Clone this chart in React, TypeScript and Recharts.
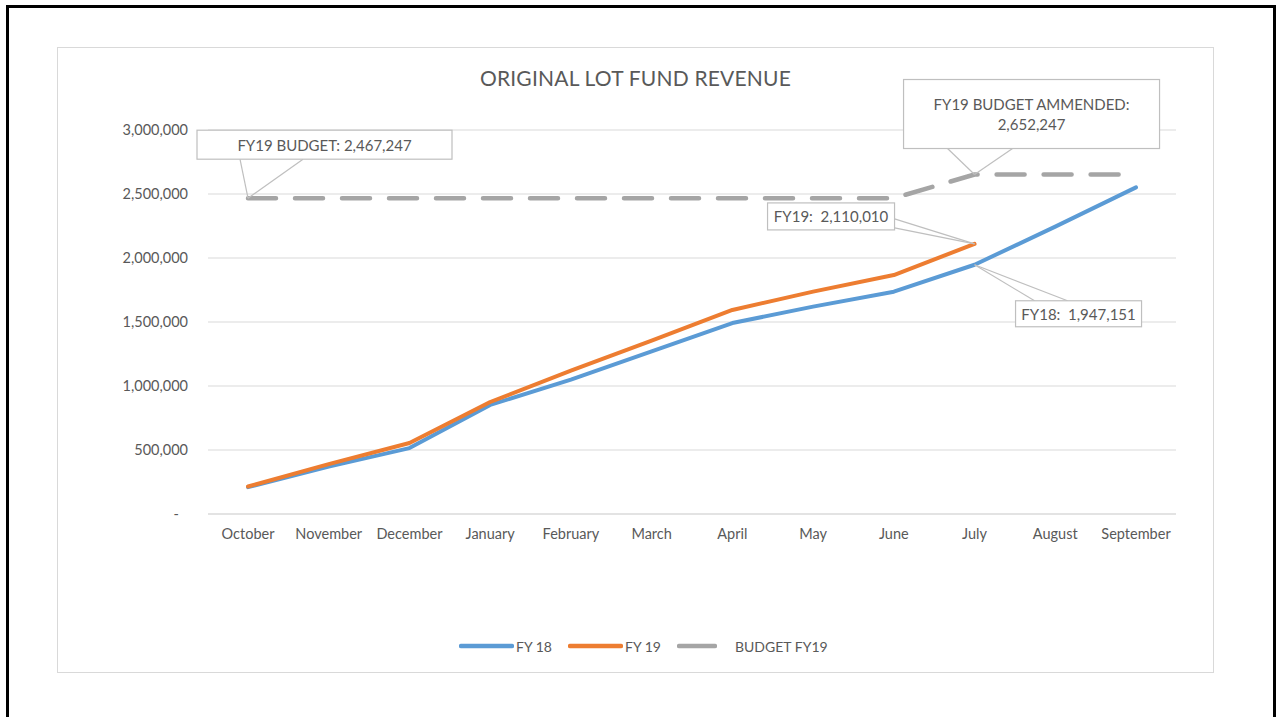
import React from "react";
import { LineChart, Line, XAxis, YAxis, CartesianGrid, ReferenceDot } from "recharts";

const MONTHS = [
  "October", "November", "December", "January", "February", "March",
  "April", "May", "June", "July", "August", "September",
];
const FY18 = [210000, 370000, 515000, 852000, 1050000, 1270000, 1492000, 1620000, 1737000, 1947151, 2245000, 2552000];
const FY19 = [215000, 390000, 555000, 875000, 1120000, 1355000, 1594000, 1737000, 1867000, 2110010, null, null];
const BUDGET = [
  2467247, 2467247, 2467247, 2467247, 2467247, 2467247, 2467247, 2467247, 2467247,
  2652247, 2652247, 2652247,
];
const Y_TICKS = [0, 500000, 1000000, 1500000, 2000000, 2500000, 3000000];

const FONT = "Lato, 'Noto Sans', sans-serif";
const TEXT = "#595959";
const GRID = "#d9d9d9";
const EDGE = "#bfbfbf";
const BLUE = "#5b9bd5";
const ORANGE = "#ed7d31";
const GREY = "#a5a5a5";

const fmt = (v: number) => v.toLocaleString("en-US");

const data = MONTHS.map((month, i) => ({
  month,
  fy18: FY18[i],
  fy19: FY19[i],
  budget: BUDGET[i],
}));

type Callout = {
  month: string;
  value: number;
  lines: string[];
  box: [number, number, number, number];
  legs: [number, number][];
};

const JUL = 9;
const callouts: Callout[] = [
  {
    month: MONTHS[0],
    value: BUDGET[0],
    lines: [`FY19 BUDGET: ${fmt(BUDGET[0])}`],
    box: [-51, -68, 255, 29],
    legs: [[-8, -39], [55, -39]],
  },
  {
    month: MONTHS[JUL],
    value: BUDGET[JUL],
    lines: ["FY19 BUDGET AMMENDED:", fmt(BUDGET[JUL])],
    box: [-71, -95, 256, 69],
    legs: [[-27, -26], [38, -26]],
  },
  {
    month: MONTHS[JUL],
    value: FY19[JUL] as number,
    lines: [`FY19:  ${fmt(FY19[JUL] as number)}`],
    box: [-207, -41, 127, 27],
    legs: [[-80, -25], [-80, -16]],
  },
  {
    month: MONTHS[JUL],
    value: FY18[JUL],
    lines: [`FY18:  ${fmt(FY18[JUL])}`],
    box: [41, 36, 126, 26],
    legs: [[60, 36], [93, 36]],
  },
];

const calloutShape = (c: Callout) => (props: any) => {
  const { cx, cy } = props;
  const [dx, dy, w, h] = c.box;
  const bx = cx + dx;
  const by = cy + dy;
  const step = 20;
  const first = by + h / 2 - ((c.lines.length - 1) * step) / 2;
  return (
    <g>
      {c.legs.map(([lx, ly], i) => (
        <line key={i} x1={cx + lx} y1={cy + ly} x2={cx} y2={cy} stroke={EDGE} strokeWidth={1.2} />
      ))}
      <rect x={bx} y={by} width={w} height={h} fill="#fff" stroke={EDGE} strokeWidth={1.2} />
      {c.lines.map((t, i) => (
        <text
          key={i}
          x={bx + w / 2}
          y={first + i * step}
          textAnchor="middle"
          dominantBaseline="central"
          fill={TEXT}
          fontSize={15}
          style={{ whiteSpace: "pre" }}
        >
          {t}
        </text>
      ))}
    </g>
  );
};

const YTick = (props: any) => {
  const { x, y, payload } = props;
  const zero = payload.value === 0;
  return (
    <text x={zero ? x - 9 : x} y={y} dy="0.355em" textAnchor="end" fill={TEXT} fontSize={14.5}>
      {zero ? "-" : fmt(payload.value)}
    </text>
  );
};

const legendItems = [
  { name: "FY 18", color: BLUE, left: 401, len: 51, dash: false },
  { name: "FY 19", color: ORANGE, left: 510, len: 51, dash: false },
  { name: "BUDGET FY19", color: GREY, left: 619, len: 36, dash: true },
];

export default function App() {
  return (
    <div style={{ position: "absolute", left: 0, top: 0, width: 1276, height: 717, background: "#fff", overflow: "hidden", fontFamily: FONT }}>
      <div
        style={{
          position: "absolute", left: 6, top: 5, width: 1270, height: 730,
          border: "3px solid #000", boxSizing: "border-box",
        }}
      />
      <div
        style={{
          position: "absolute", left: 57, top: 47, width: 1157, height: 626,
          border: `1px solid ${GRID}`, boxSizing: "border-box", background: "#fff",
        }}
      >
        <div
          style={{
            position: "absolute", left: 0, top: 18, width: "100%", textAlign: "center",
            fontSize: 21, lineHeight: "24px", color: TEXT, letterSpacing: 0.2,
          }}
        >
          ORIGINAL LOT FUND REVENUE
        </div>
        <div style={{ position: "absolute", left: 0, top: 0 }}>
          <LineChart
            width={1155}
            height={624}
            data={data}
            margin={{ top: 82, right: 37, left: 0, bottom: 128 }}
          >
            <CartesianGrid vertical={false} stroke={GRID} strokeWidth={1.2} />
            <XAxis
              dataKey="month"
              height={30}
              padding={{ left: 40, right: 40 }}
              axisLine={{ stroke: GRID, strokeWidth: 1.2 }}
              tickLine={false}
              tickMargin={9}
              tick={{ fill: TEXT, fontSize: 14.5 }}
              interval={0}
            />
            <YAxis
              width={150}
              domain={[0, 3000000]}
              ticks={Y_TICKS}
              axisLine={false}
              tickLine={false}
              tickMargin={14}
              tick={<YTick />}
            />
            <Line
              dataKey="fy18"
              stroke={BLUE}
              strokeWidth={4}
              strokeLinecap="round"
              strokeLinejoin="round"
              dot={false}
              activeDot={false}
              isAnimationActive={false}
            />
            <Line
              dataKey="fy19"
              stroke={ORANGE}
              strokeWidth={4}
              strokeLinecap="round"
              strokeLinejoin="round"
              dot={false}
              activeDot={false}
              isAnimationActive={false}
            />
            <Line
              dataKey="budget"
              stroke={GREY}
              strokeWidth={4.5}
              strokeDasharray="28 19"
              strokeLinecap="round"
              strokeLinejoin="round"
              dot={false}
              activeDot={false}
              isAnimationActive={false}
            />
            {callouts.map((c, i) => (
              <ReferenceDot
                key={i}
                x={c.month}
                y={c.value}
                ifOverflow="visible"
                shape={calloutShape(c)}
              />
            ))}
          </LineChart>
        </div>
        {legendItems.map((it) => (
          <div
            key={it.name}
            style={{ position: "absolute", left: it.left, top: 588, height: 20, display: "flex", alignItems: "center" }}
          >
            <svg width={it.len + 4} height={8} style={{ display: "block" }}>
              <line
                x1={2}
                y1={4}
                x2={it.len + 2}
                y2={4}
                stroke={it.color}
                strokeWidth={4.5}
                strokeLinecap="round"
              />
            </svg>
            <span style={{ marginLeft: it.dash ? 18 : 2, fontSize: 14, color: TEXT }}>{it.name}</span>
          </div>
        ))}
      </div>
    </div>
  );
}
